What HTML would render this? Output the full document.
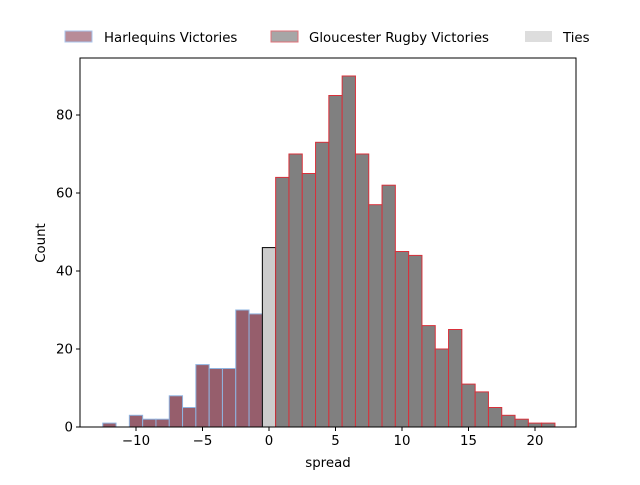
<!DOCTYPE html>
<html><head><meta charset="utf-8"><style>
body{margin:0;background:#fff}
svg text{font-family:"DejaVu Sans","Liberation Sans",sans-serif;font-size:13.33px;fill:#000}
</style></head><body>
<svg id="chart" width="640" height="480">
<g id="legend">
 <g><rect x="65" y="31" width="27" height="11" fill="#b88c98" stroke="#a9c4ec"/><text x="104" y="42">Harlequins Victories</text></g>
 <g><rect x="271" y="31" width="27" height="11" fill="#a6a6a6" stroke="#e07078"/><text x="309" y="42">Gloucester Rugby Victories</text></g>
 <g><rect x="525" y="31" width="27" height="11" fill="#dddddd"/><text x="563" y="42">Ties</text></g>
</g>
<g id="bars"></g>
<g id="axes"></g>
</svg>
<script>
const spreads=[-12,-11,-10,-9,-8,-7,-6,-5,-4,-3,-2,-1,0,1,2,3,4,5,6,7,8,9,10,11,12,13,14,15,16,17,18,19,20,21];
const counts=[1,0,3,2,2,8,5,16,15,15,30,29,46,64,70,65,73,85,90,70,57,62,45,44,26,20,25,11,9,5,3,2,1,1];
const xTicks=[-10,-5,0,5,10,15,20];
const yTicks=[0,20,40,60,80];
const NS="http://www.w3.org/2000/svg";
const L=80,R=576,T=58,B=427;
const x=v=>269+v*13.3;
const y=v=>B-v*3.9;
const bars=document.getElementById('bars'),axes=document.getElementById('axes');
function mk(tag,attrs,parent){const e=document.createElementNS(NS,tag);for(const k in attrs)e.setAttribute(k,attrs[k]);parent.appendChild(e);return e;}
spreads.forEach((s,i)=>{
 const c=counts[i]; if(c<=0)return;
 let fill,stroke;
 if(s<0){fill="#965e6c";stroke="#8fb4e0";}else if(s>0){fill="#808080";stroke="#d8303a";}else{fill="#cccccc";stroke="#000";}
 const r=mk('rect',{x:x(s-0.5),y:y(c),width:13.3,height:y(0)-y(c),fill:fill,stroke:stroke,'stroke-width':1},bars);
 
 
});
mk('rect',{x:L,y:T,width:R-L,height:B-T,fill:'none',stroke:'#000','stroke-width':1},axes);
xTicks.forEach(t=>{
 mk('line',{x1:x(t),x2:x(t),y1:B,y2:B+4,stroke:'#000'},axes);
 const tx=mk('text',{x:x(t),y:B+18,'text-anchor':'middle'},axes);tx.textContent=t<0?'\u2212'+(-t):t;
 
 
});
yTicks.forEach(t=>{
 mk('line',{x1:L-4,x2:L,y1:y(t),y2:y(t),stroke:'#000'},axes);
 const tx=mk('text',{x:L-7,y:y(t)+4.5,'text-anchor':'end'},axes);tx.textContent=t;
 
 
});
const xl=mk('text',{x:328,y:467,'text-anchor':'middle'},axes);xl.textContent='spread';


const yl=mk('text',{x:45,y:243,'text-anchor':'middle',transform:'rotate(-90 45 243)'},axes);yl.textContent='Count';


</script>
</body></html>
